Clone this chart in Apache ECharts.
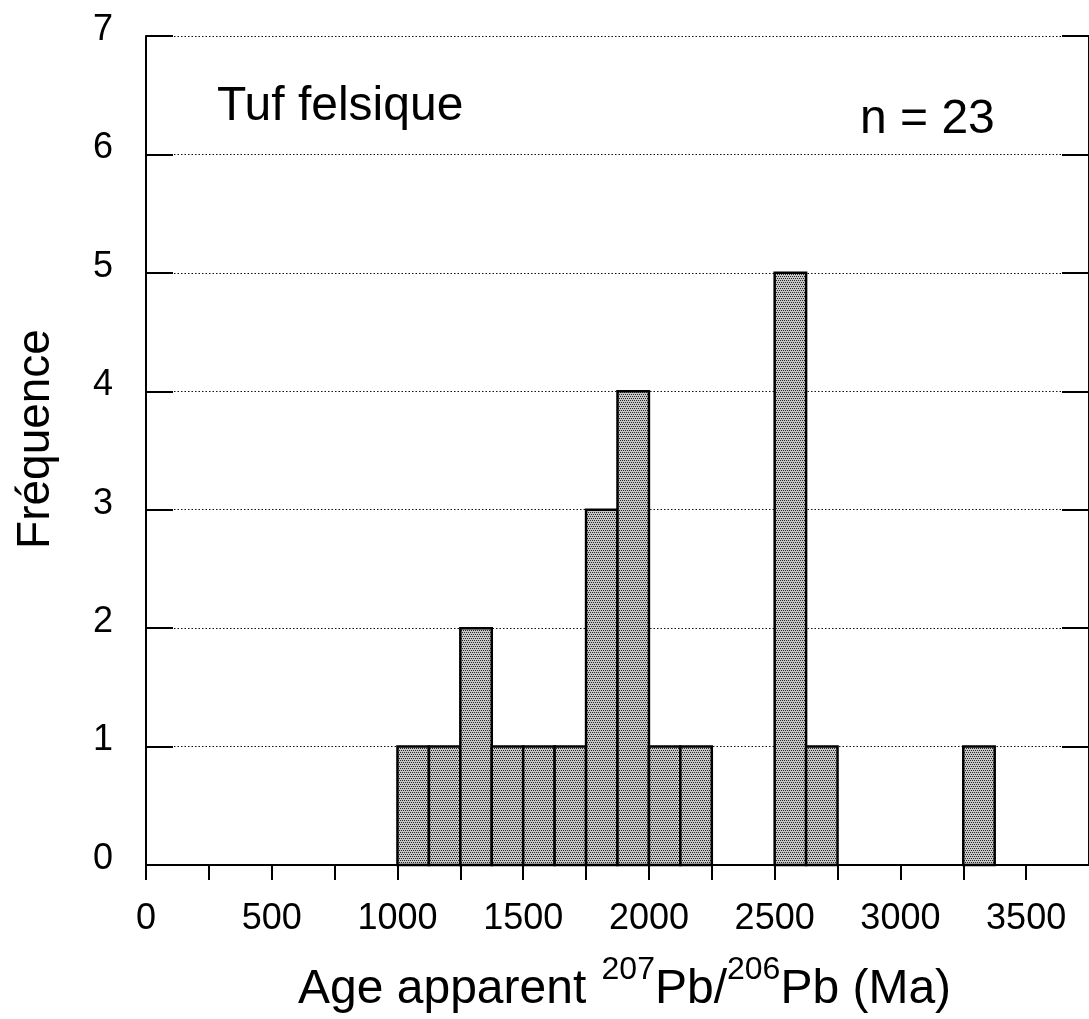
<!DOCTYPE html>
<html>
<head>
<meta charset="utf-8">
<script src="https://cdn.jsdelivr.net/npm/echarts@6/dist/echarts.min.js"></script>
<style>
  html, body { margin: 0; padding: 0; background: #fff; overflow: hidden; }
  #chart { width: 1089px; height: 1019px; }
</style>
</head>
<body>
<div id="chart"></div>
<script>
// Histogram of apparent 207Pb/206Pb ages (Ma), 125 Ma bins
const binStarts = [1000, 1125, 1250, 1375, 1500, 1625, 1750, 1875, 2000, 2125, 2500, 2625, 3250];
const binWidth = 125;
const counts = [1, 1, 2, 1, 1, 1, 3, 4, 1, 1, 5, 1, 1];

const xLabelValues = [0, 500, 1000, 1500, 2000, 2500, 3000, 3500];
const yLabelValues = [0, 1, 2, 3, 4, 5, 6, 7];

const sampleName = 'Tuf felsique';
const sampleCount = 'n = 23';

const FONT = '"Liberation Sans", Arial, Helvetica, sans-serif';

// Stippled grey fill for the bars
function stipple() {
  const c = document.createElement('canvas');
  c.width = 4; c.height = 4;
  const g = c.getContext('2d');
  g.fillStyle = '#c6c6c6';
  g.fillRect(0, 0, 4, 4);
  g.fillStyle = '#262626';
  [[0, 0], [2, 0], [1, 2], [3, 2]].forEach(p => g.fillRect(p[0], p[1], 1, 1));
  return c;
}
const barFill = { image: stipple(), repeat: 'repeat' };

const bins = binStarts.map((s, i) => [s, s + binWidth, counts[i]]);

const chart = echarts.init(document.getElementById('chart'), null, { renderer: 'canvas' });

const yCommon = {
  type: 'value',
  min: 0,
  max: 7,
  interval: 1,
  axisLine: { show: true, lineStyle: { color: '#000', width: 2 } },
  axisTick: { show: true, inside: true, length: 27, lineStyle: { color: '#000', width: 2 } }
};

chart.setOption({
  animation: false,
  backgroundColor: '#fff',
  grid: { left: 146, top: 36, right: -8, bottom: 154 },
  xAxis: {
    type: 'value',
    min: 0,
    max: 3750,
    interval: 250,
    axisLine: { show: true, onZero: false, lineStyle: { color: '#000', width: 2 } },
    axisTick: { show: true, inside: false, length: 15, lineStyle: { color: '#000', width: 2 } },
    axisLabel: {
      color: '#000',
      fontSize: 36,
      fontFamily: FONT,
      margin: 36,
      showMaxLabel: false,
      formatter: v => (xLabelValues.indexOf(v) >= 0 ? String(v) : '')
    },
    splitLine: { show: false }
  },
  yAxis: [
    Object.assign({}, yCommon, {
      position: 'left',
      axisLabel: {
        color: '#000',
        fontSize: 36,
        fontFamily: FONT,
        margin: 33,
        verticalAlign: 'bottom',
        lineHeight: 12,
        formatter: v => (yLabelValues.indexOf(v) >= 0 ? String(v) : '')
      },
      splitLine: { show: true, lineStyle: { color: '#111', width: 1, type: [1.5, 2] } }
    }),
    Object.assign({}, yCommon, {
      position: 'right',
      axisLabel: { show: false },
      splitLine: { show: false }
    })
  ],
  series: [{
    type: 'custom',
    data: bins,
    encode: { x: [0, 1], y: 2 },
    renderItem: function (params, api) {
      const lo = api.coord([api.value(0), 0]);
      const hi = api.coord([api.value(1), api.value(2)]);
      return {
        type: 'rect',
        shape: { x: lo[0], y: hi[1], width: hi[0] - lo[0], height: lo[1] - hi[1] },
        style: { fill: barFill, stroke: '#000', lineWidth: 2.5 }
      };
    },
    z: 3
  }],
  graphic: [
    {
      type: 'text', x: 217, y: 107,
      style: { text: sampleName, fontSize: 48, fontFamily: FONT, fill: '#000', textAlign: 'left', verticalAlign: 'middle' }
    },
    {
      type: 'text', x: 860, y: 120,
      style: { text: sampleCount, fontSize: 48, fontFamily: FONT, fill: '#000', textAlign: 'left', verticalAlign: 'middle' }
    },
    {
      type: 'text', x: 36, y: 439, rotation: Math.PI / 2,
      style: { text: 'Fréquence', fontSize: 46, fontFamily: FONT, fill: '#000', textAlign: 'center', verticalAlign: 'middle' }
    },
    {
      type: 'text', x: 298, y: 990,
      style: {
        text: 'Age apparent {s1|207}Pb/{s|206}Pb (Ma)',
        fontSize: 48,
        fontFamily: FONT,
        lineHeight: 72,
        fill: '#000',
        textAlign: 'left',
        verticalAlign: 'middle',
        rich: {
          s1: { fontSize: 32, fontFamily: FONT, fill: '#000', verticalAlign: 'top', lineHeight: 32, padding: [0, 0, 0, 2] },
          s: { fontSize: 32, fontFamily: FONT, fill: '#000', verticalAlign: 'top', lineHeight: 32 }
        }
      }
    }
  ]
});
</script>
</body>
</html>
